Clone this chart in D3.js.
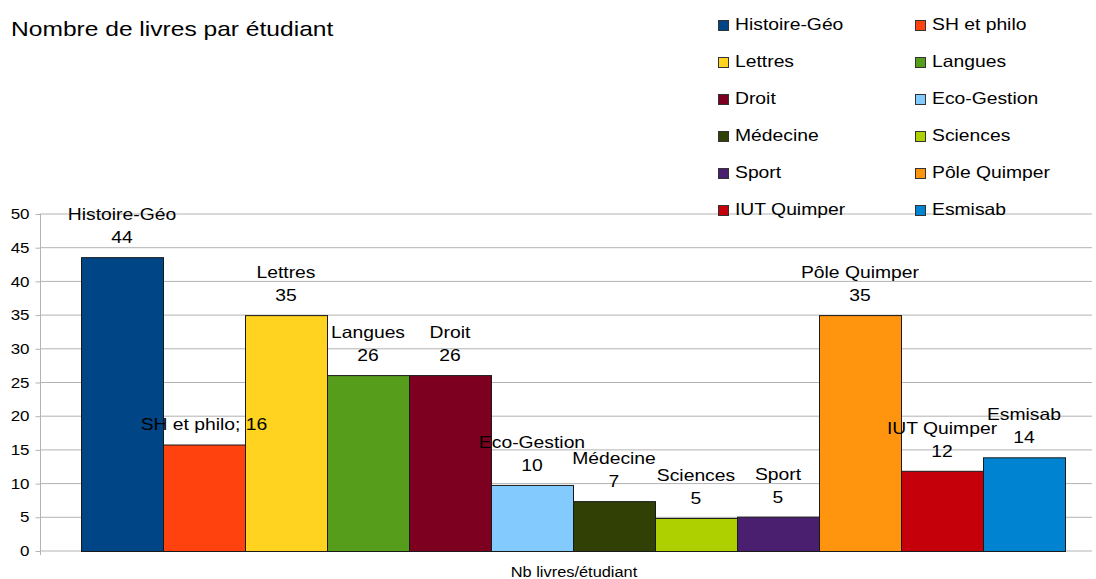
<!DOCTYPE html>
<html>
<head>
<meta charset="utf-8">
<script src="https://cdn.jsdelivr.net/npm/d3@7"></script>
<style>
  body { margin: 0; background: #fff; }
  text { font-family: "Liberation Sans", Arial, sans-serif; fill: #000; }
</style>
</head>
<body>
<svg id="chart" width="1096" height="579"></svg>
<script>
// data
let categories = ['Histoire-Géo', 'SH et philo', 'Lettres', 'Langues', 'Droit', 'Eco-Gestion',
                  'Médecine', 'Sciences', 'Sport', 'Pôle Quimper', 'IUT Quimper', 'Esmisab'];
let values = [43.6, 15.8, 35, 26.1, 26.1, 9.8, 7.4, 4.9, 5.1, 35, 11.9, 13.9];
let colors = ['#004586', '#ff420e', '#ffd320', '#579d1c', '#7e0021', '#83caff',
              '#314004', '#aecf00', '#4b1f6f', '#ff950e', '#c5000b', '#0084d1'];
let yTicks = [0, 5, 10, 15, 20, 25, 30, 35, 40, 45, 50];

let width = 1096, height = 579;
let stretch = 1.17; // the original text is a bit wider than Liberation Sans

let svg = d3.select('#chart');

let x = d3.scaleBand().domain(categories).range([81, 1065]).padding(0);
let y = d3.scaleLinear().domain([0, 50]).range([551, 214]);

// gridlines
svg.append('g')
    .selectAll('line')
    .data(yTicks)
    .enter().append('line')
    .attr('x1', 40).attr('x2', 1092)
    .attr('y1', d => y(d)).attr('y2', d => y(d))
    .style('stroke', '#b3b3b3').style('stroke-width', 1);

// y axis
let yAxis = svg.append('g')
    .attr('transform', 'translate(40.5,0)')
    .call(d3.axisLeft(y).tickValues(yTicks).tickSize(5).tickPadding(6));
yAxis.select('.domain').attr('d', `M0,${y(50)}V${y(0) + 4}`).style('stroke', '#b3b3b3');
yAxis.selectAll('.tick line').style('stroke', '#b3b3b3');
yAxis.selectAll('.tick text').style('font-size', '14.5px').style('font-family', '"Liberation Sans", Arial, sans-serif');

// bars
svg.append('g')
    .selectAll('rect')
    .data(categories)
    .enter().append('rect')
    .attr('x', d => x(d) + 0.5)
    .attr('y', (d, i) => y(values[i]) + 0.5)
    .attr('width', x.bandwidth())
    .attr('height', (d, i) => y(0) - y(values[i]))
    .style('fill', (d, i) => colors[i])
    .style('stroke', '#1a1a1a').style('stroke-width', 1);

// data labels
let labels = svg.append('g');
categories.forEach((c, i) => {
    let cx = x(c) + x.bandwidth() / 2;
    let top = y(values[i]);
    if (c === 'SH et philo') {
        labels.append('text').attr('x', cx).attr('y', top - 15)
            .attr('text-anchor', 'middle').style('font-size', '16.5px')
            .text(`${c}; ${Math.round(values[i])}`);
    } else {
        labels.append('text').attr('x', cx).attr('y', top - 37)
            .attr('text-anchor', 'middle').style('font-size', '16.5px').text(c);
        labels.append('text').attr('x', cx).attr('y', top - 14)
            .attr('text-anchor', 'middle').style('font-size', '16.5px').text(Math.round(values[i]));
    }
});

// title
svg.append('text').attr('x', 11).attr('y', 36)
    .style('font-size', '21px').text('Nombre de livres par étudiant');

// x axis title
svg.append('text').attr('x', 574).attr('y', 577)
    .attr('text-anchor', 'middle').style('font-size', '14px').text('Nb livres/étudiant');

// legend, two columns
let legend = svg.append('g')
    .selectAll('g')
    .data(categories)
    .enter().append('g')
    .attr('transform', (d, i) => `translate(${i % 2 ? 915 : 718}, ${30 + Math.floor(i / 2) * 37})`);
legend.append('rect')
    .attr('x', 0.5).attr('y', -9.5).attr('width', 10).attr('height', 10)
    .style('fill', (d, i) => colors[i])
    .style('stroke', '#333').style('stroke-width', 1);
legend.append('text').attr('x', 17).attr('y', 0)
    .style('font-size', '16.5px').text(d => d);

// widen every text a bit to match the original
svg.selectAll('text').each(function () {
    let w = this.getComputedTextLength();
    d3.select(this).attr('textLength', w * stretch).attr('lengthAdjust', 'spacingAndGlyphs');
});
</script>
</body>
</html>
